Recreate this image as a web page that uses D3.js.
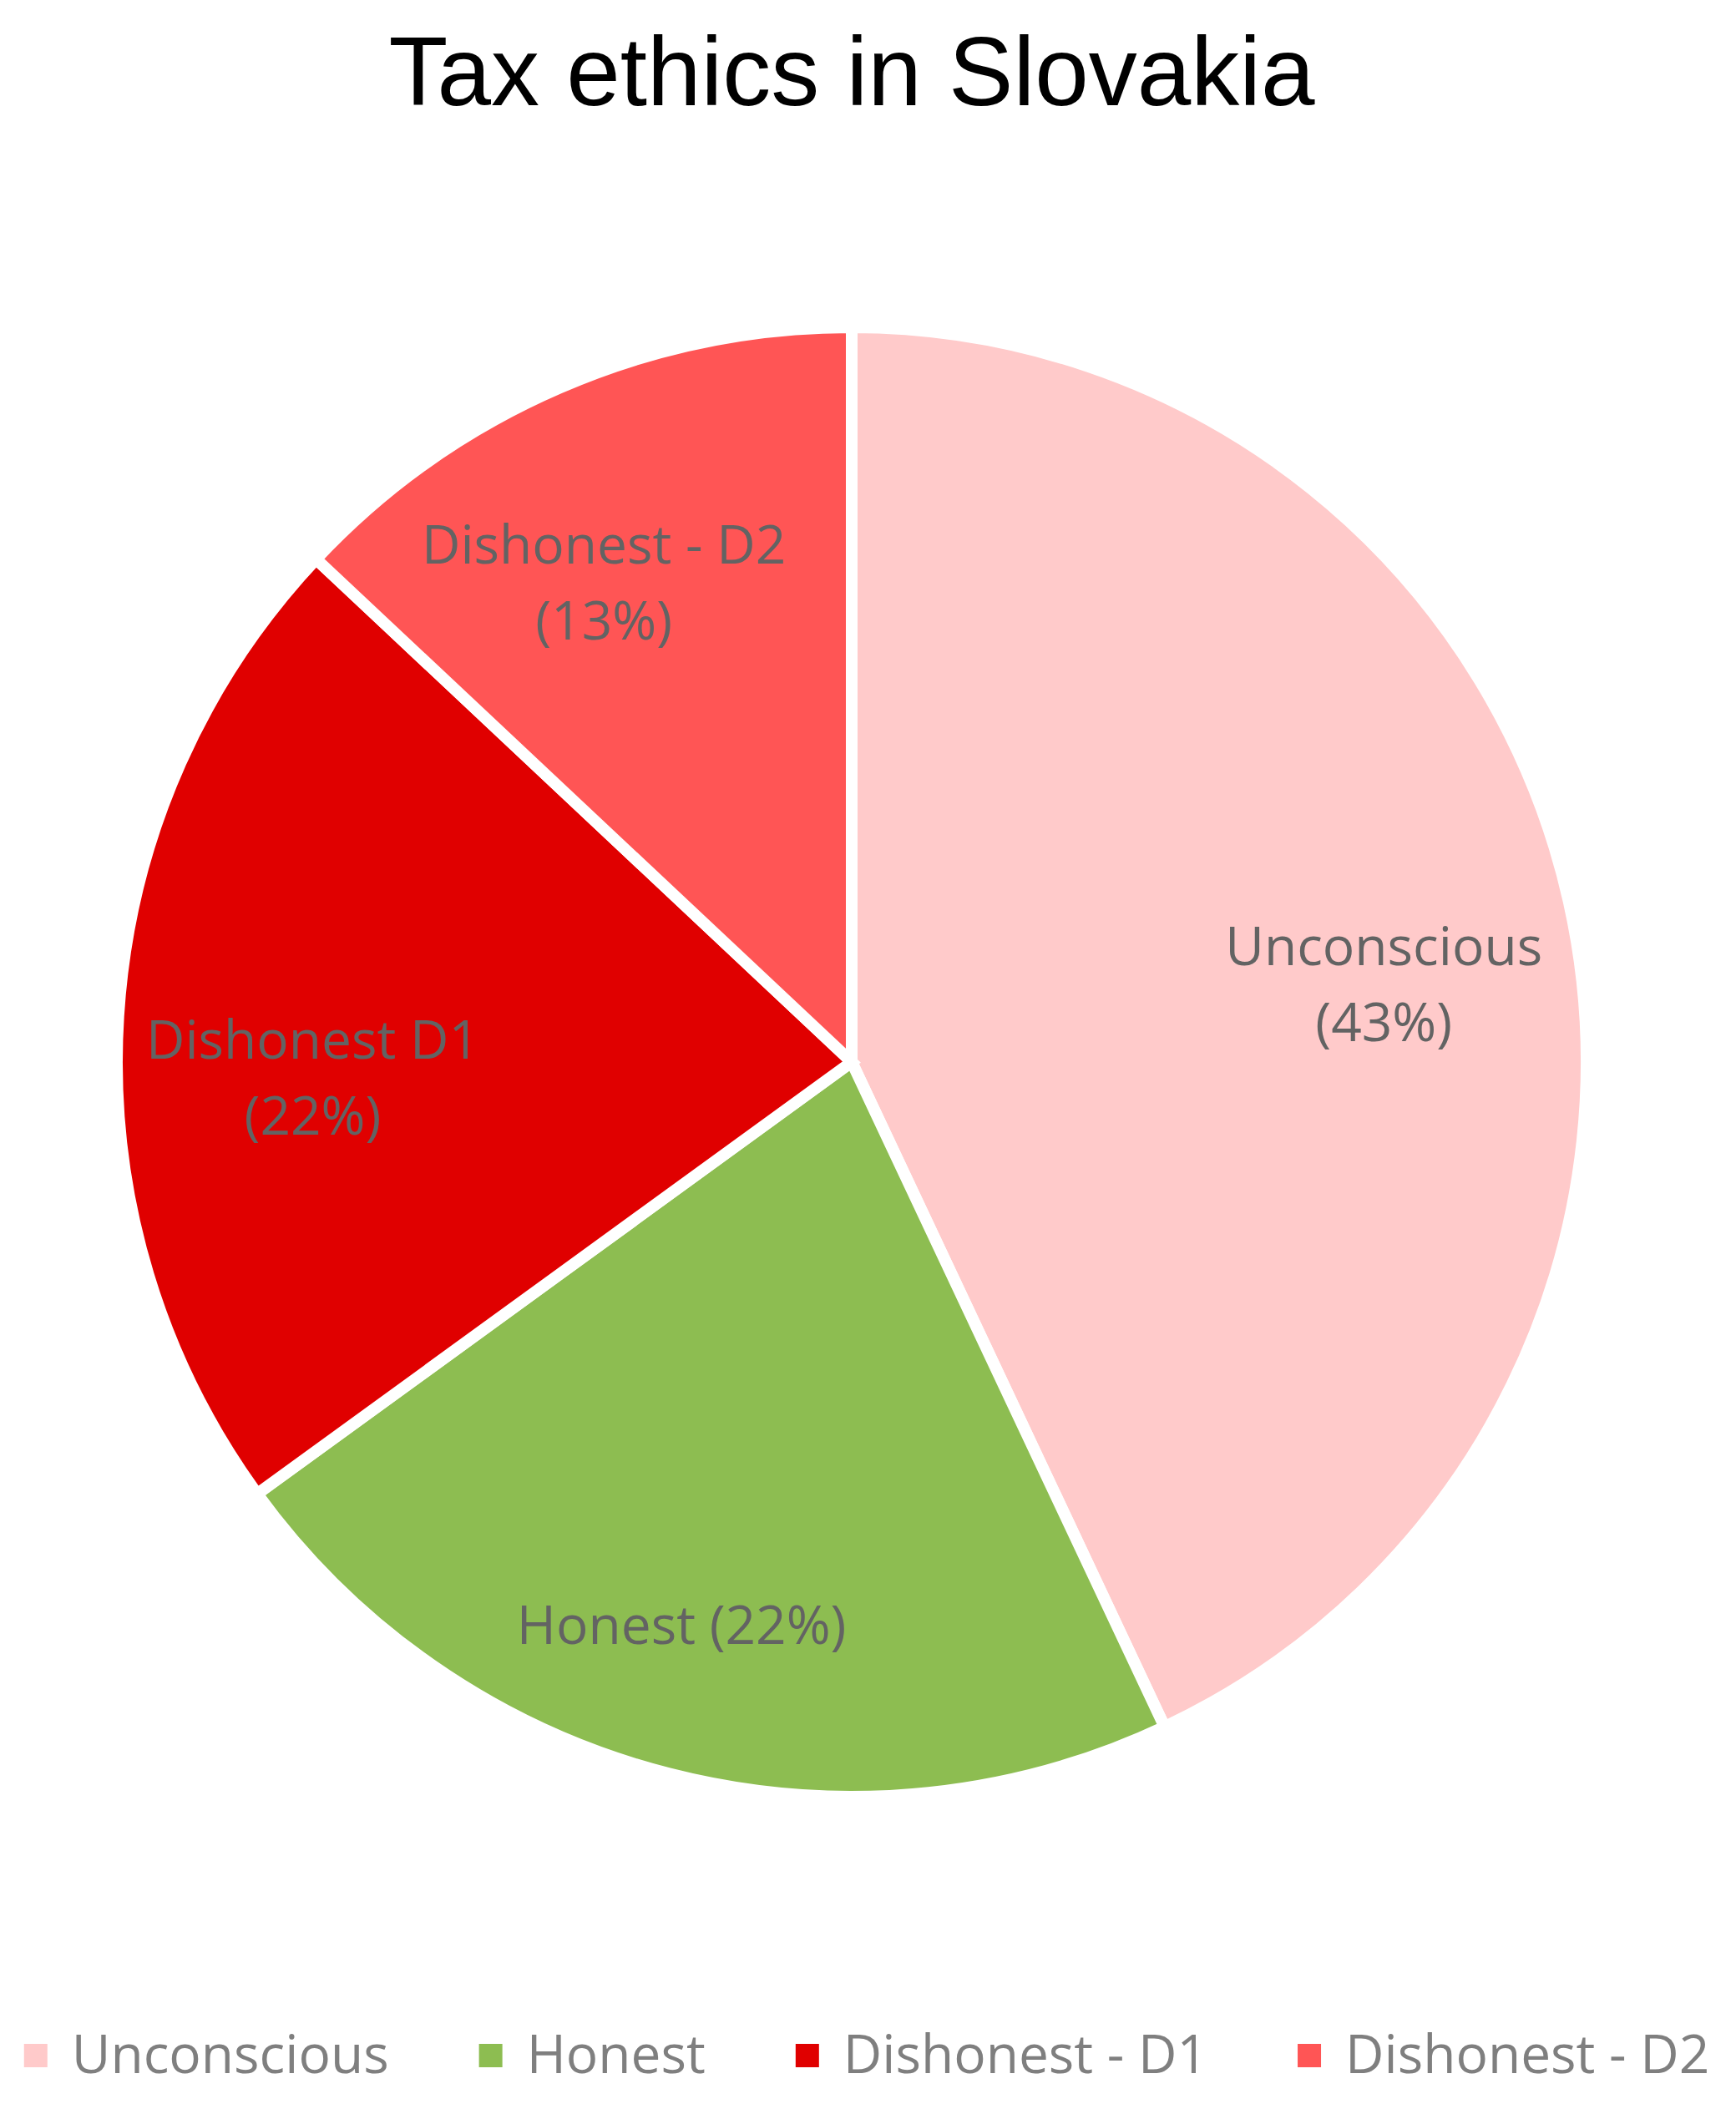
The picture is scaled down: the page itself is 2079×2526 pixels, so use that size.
<!DOCTYPE html>
<html>
<head>
<meta charset="utf-8">
<script src="https://cdn.jsdelivr.net/npm/d3@7"></script>
<style>
  body { margin: 0; background: #fff; }
  svg { display: block; }
</style>
</head>
<body>
<div id="chart"></div>
<script>
const categories = ["Unconscious", "Honest", "Dishonest - D1", "Dishonest - D2"];
const sliceLabels = [["Unconscious", "(43%)"], ["Honest (22%)"], ["Dishonest D1", "(22%)"], ["Dishonest - D2", "(13%)"]];
const values = [43, 22, 22, 13];
const colors = ["#FFCACA", "#8DBD51", "#E00000", "#FF5555"];

const width = 2079;
const height = 2526;
const cx = 1020, cy = 1272;
const radius = 880;

const svg = d3.select("#chart").append("svg")
  .attr("width", width)
  .attr("height", height);

// title
svg.append("text")
  .attr("x", cx)
  .attr("y", 126)
  .attr("text-anchor", "middle")
  .style("font-family", "'Liberation Sans', Arial, sans-serif")
  .style("font-size", "116px")
  .style("fill", "#000")
  .text("Tax ethics in Slovakia");

const data = categories.map((c, i) => ({ name: c, value: values[i], label: sliceLabels[i], color: colors[i] }));

const pie = d3.pie().sort(null).value(d => d.value);
const arc = d3.arc().innerRadius(0).outerRadius(radius);
const arcs = pie(data);

const g = svg.append("g").attr("transform", `translate(${cx},${cy})`);

g.selectAll("path")
  .data(arcs)
  .enter().append("path")
    .attr("d", arc)
    .attr("fill", d => d.data.color)
    .attr("stroke", "#fff")
    .attr("stroke-width", 14)
    .attr("stroke-linejoin", "miter");

// data labels ("best fit" in the original moves them a little off the centroid)
const labelArc = d3.arc().innerRadius(radius * 0.735).outerRadius(radius * 0.735);
const labelNudge = [[6, 47], [-43, 47], [0, 58], [-40, 18]];
const lineGap = 91;
const capHalf = 24;

const labels = g.selectAll("text.label")
  .data(arcs)
  .enter().append("text")
    .attr("class", "label")
    .attr("text-anchor", "middle")
    .style("font-family", "'Open Sans', sans-serif")
    .style("font-size", "64px")
    .style("fill", "#636363")
    .attr("transform", (d, i) => {
      const p = labelArc.centroid(d);
      return `translate(${p[0] + labelNudge[i][0]},${p[1] + labelNudge[i][1]})`;
    });

labels.each(function(d) {
  const lines = d.data.label;
  const top = -(lines.length - 1) * lineGap / 2 + capHalf;
  d3.select(this).selectAll("tspan")
    .data(lines)
    .enter().append("tspan")
      .attr("x", 0)
      .attr("y", (l, i) => top + i * lineGap)
      .text(l => l);
});

// legend
const legendY = 2448;
const sw = 28;
const textOffset = 57;
const itemGap = 108;

const legend = svg.append("g");
const items = legend.selectAll("g")
  .data(data)
  .enter().append("g");

items.append("rect")
  .attr("width", sw)
  .attr("height", sw)
  .attr("y", legendY)
  .attr("fill", d => d.color);

items.append("text")
  .attr("x", textOffset)
  .attr("y", legendY + 35)
  .style("font-family", "'Open Sans', sans-serif")
  .style("font-size", "64px")
  .style("fill", "#7F7F7F")
  .text(d => d.name);

let x = 0;
const positions = [];
items.each(function() {
  const w = d3.select(this).select("text").node().getComputedTextLength();
  positions.push(x);
  x += textOffset + w + itemGap;
});
const total = x - itemGap;
const startX = 1038 - total / 2;
items.attr("transform", (d, i) => `translate(${startX + positions[i]},0)`);
</script>
</body>
</html>
